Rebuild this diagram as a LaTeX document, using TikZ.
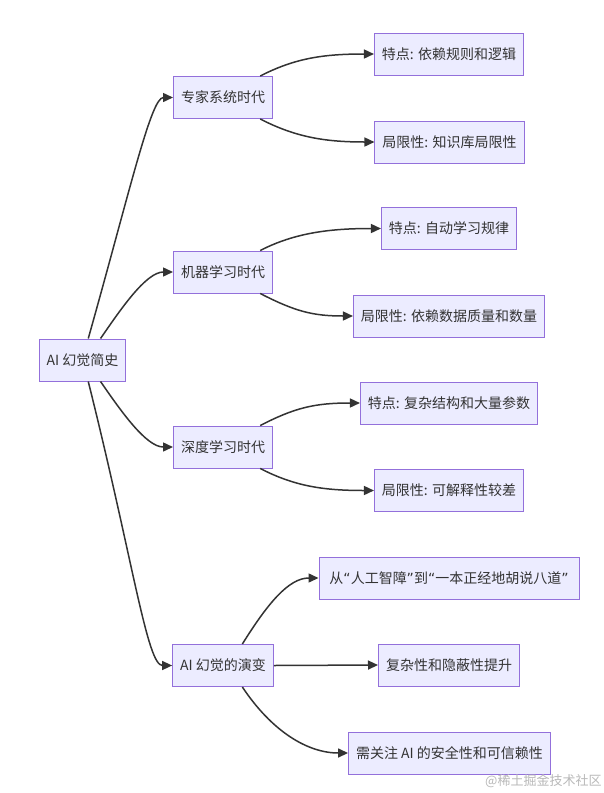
\documentclass[tikz,border=0pt]{standalone}
\usepackage{fontspec}
\setmainfont{Noto Sans CJK SC}
\newfontfamily\quotefont{DejaVu Sans}
\usepackage{tikz}
\usetikzlibrary{arrows.meta}
\definecolor{boxfill}{HTML}{ECECFF}
\definecolor{boxline}{HTML}{9370DB}
\definecolor{inkgray}{HTML}{333333}
\tikzset{box/.style={draw=boxline,fill=boxfill,line width=1pt,text=inkgray,minimum height=42pt,inner xsep=7.5pt,font=\fontsize{14pt}{16pt}\selectfont}}
\tikzset{link/.style={draw=inkgray,line width=1.5pt,-{Triangle[length=10pt,width=9pt]}}}
\newcommand{\oquote}{{\quotefont “}}
\newcommand{\cquote}{{\quotefont ”}}

\begin{document}
\begin{tikzpicture}[x=1pt,y=-1pt]
    \fill [white] (0,0) rectangle (604,793);
    \useasboundingbox (0,0) rectangle (604,793);
    \node [box] (root) at (82.5,360) {AI 幻觉简史};
    \node [box] (expert) at (223,97.5) {专家系统时代};
    \node [box] (expfeat) at (449,54) {特点: 依赖规则和逻辑};
    \node [box] (explim) at (449.5,142) {局限性: 知识库局限性};
    \node [box] (ml) at (223,272) {机器学习时代};
    \node [box] (mlfeat) at (449,228.5) {特点: 自动学习规律};
    \node [box] (mllim) at (449,316) {局限性: 依赖数据质量和数量};
    \node [box] (dl) at (223,447) {深度学习时代};
    \node [box] (dlfeat) at (449,403) {特点: 复杂结构和大量参数};
    \node [box] (dllim) at (449,490.5) {局限性: 可解释性较差};
    \node [box] (evo) at (223,665.5) {AI 幻觉的演变};
    \node [box,minimum width=260pt] (evoa) at (449,578) {从\oquote 人工智障\cquote 到\oquote 一本正经地胡说八道\cquote};
    \node [box] (evob) at (449,665) {复杂性和隐蔽性提升};
    \node [box] (evoc) at (449.5,753) {需关注 AI 的安全性和可信赖性};
    \node [text=gray!55,font=\fontsize{13pt}{15pt}\selectfont,anchor=west,inner sep=0pt] (mark) at (485,781) {@稀土掘金技术社区};
    \draw [link] (root.75) .. controls +(42,-149) and +(-22,0) .. (expert.west);
    \draw [link] (root.50) .. controls +(20,-29) and +(-27,0) .. (ml.west);
    \draw [link] (root.-50) .. controls +(20,29) and +(-27,0) .. (dl.west);
    \draw [link] (root.-75) .. controls +(45,180) and +(-25,0) .. (evo.west);
    \draw [link] (expert.30) .. controls +(35,-18) and +(-50,0) .. (expfeat.west);
    \draw [link] (expert.-30) .. controls +(35,18) and +(-50,0) .. (explim.west);
    \draw [link] (ml.30) .. controls +(35,-18) and +(-50,0) .. (mlfeat.west);
    \draw [link] (ml.-30) .. controls +(35,18) and +(-40,0) .. (mllim.west);
    \draw [link] (dl.30) .. controls +(35,-18) and +(-45,0) .. (dlfeat.west);
    \draw [link] (dl.-30) .. controls +(35,18) and +(-50,0) .. (dllim.west);
    \draw [link] (evo.48) .. controls +(25,-40) and +(-30,0) .. (evoa.west);
    \draw [link] (evo.east) -- (evob.west);
    \draw [link] (evo.-48) .. controls +(30,45) and +(-40,0) .. (evoc.west);
\end{tikzpicture}
\end{document}
